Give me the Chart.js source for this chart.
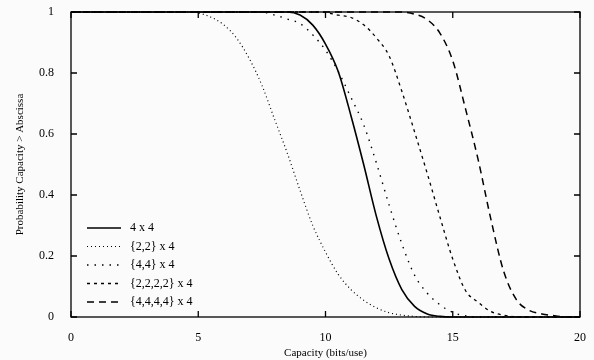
<!DOCTYPE html>
<html>
<head>
<meta charset="utf-8">
<script src="https://cdn.jsdelivr.net/npm/chart.js@4.4.1/dist/chart.umd.min.js"></script>
<style>
  html, body { margin: 0; padding: 0; background: #fbfbfb; }
  #wrap { width: 594px; height: 360px; }
</style>
</head>
<body>
<div id="wrap"><canvas id="cap"></canvas></div>
<script>
// tick labels
const xTicks = [0, 5, 10, 15, 20];
const yTicks = [0, 0.2, 0.4, 0.6, 0.8, 1];

// 4 x 4 (solid)
const x44 = [0, 8.5, 9.0, 9.5, 10.0, 10.5, 11.0, 11.5, 12.0, 12.5, 13.0, 13.5, 14.0, 14.5, 15, 20];
const y44 = [1, 1, 0.99, 0.957, 0.895, 0.805, 0.66, 0.5, 0.33, 0.19, 0.09, 0.035, 0.01, 0.002, 0, 0];

// {2,2} x 4
const x22 = [0, 4.5, 5.0, 5.5, 6.0, 6.5, 7.0, 7.5, 8.0, 8.5, 9.0, 9.5, 10.0, 10.5, 11.0, 11.5, 12.0, 12.5, 13.0, 13.5, 14.0, 20];
const y22 = [1, 1, 0.997, 0.983, 0.958, 0.915, 0.848, 0.76, 0.648, 0.537, 0.415, 0.3, 0.213, 0.14, 0.09, 0.055, 0.03, 0.014, 0.006, 0.002, 0, 0];

// {4,4} x 4
const x4_4 = [0, 7.5, 8.0, 8.5, 9.0, 9.5, 10.0, 10.5, 11.0, 11.5, 12.0, 12.5, 13.0, 13.5, 14.0, 14.5, 15.0, 15.5, 16.0, 20];
const y4_4 = [1, 1, 0.99, 0.977, 0.962, 0.925, 0.875, 0.805, 0.72, 0.63, 0.505, 0.367, 0.24, 0.137, 0.078, 0.04, 0.015, 0.004, 0, 0];

// {2,2,2,2} x 4
const x2222 = [0, 9.8, 10.5, 11.0, 11.5, 12.0, 12.5, 13.0, 13.5, 14.0, 14.5, 15.0, 15.5, 16.0, 16.5, 17.0, 17.5, 18.0, 20];
const y2222 = [1, 1, 0.99, 0.982, 0.958, 0.915, 0.856, 0.74, 0.607, 0.47, 0.327, 0.19, 0.087, 0.048, 0.018, 0.006, 0.001, 0, 0];

// {4,4,4,4} x 4
const x4444 = [0, 13.0, 13.5, 14.0, 14.5, 15.0, 15.5, 16.0, 16.5, 17.0, 17.5, 18.0, 18.5, 19.0, 19.5, 20];
const y4444 = [1, 1, 0.993, 0.975, 0.93, 0.84, 0.683, 0.515, 0.32, 0.15, 0.057, 0.022, 0.01, 0.004, 0, 0];

const labels = ['4 x 4', '{2,2} x 4', '{4,4} x 4', '{2,2,2,2} x 4', '{4,4,4,4} x 4'];

function pts(xs, ys) {
    return xs.map((x, i) => ({ x: x, y: ys[i] }));
}

function line(label, data, dash, width) {
    return {
        label: label,
        data: data,
        borderColor: '#000',
        borderWidth: width,
        borderDash: dash,
        pointRadius: 0,
        fill: false,
        cubicInterpolationMode: 'monotone',
        clip: 2
    };
}

const serif = '"Liberation Serif", "DejaVu Serif", serif';

// frame + inward ticks on all four sides
const framePlugin = {
    id: 'frame',
    afterDatasetsDraw(chart) {
        const ctx = chart.ctx;
        const a = chart.chartArea;
        const xs = chart.scales.x, ys = chart.scales.y;
        ctx.save();
        ctx.strokeStyle = '#000';
        ctx.lineWidth = 1.3;
        ctx.setLineDash([]);
        ctx.strokeRect(a.left, a.top, a.right - a.left, a.bottom - a.top);
        ctx.beginPath();
        xTicks.forEach(v => {
            const px = xs.getPixelForValue(v);
            ctx.moveTo(px, a.bottom); ctx.lineTo(px, a.bottom - 6);
            ctx.moveTo(px, a.top); ctx.lineTo(px, a.top + 6);
        });
        yTicks.forEach(v => {
            const py = ys.getPixelForValue(v);
            ctx.moveTo(a.left, py); ctx.lineTo(a.left + 6, py);
            ctx.moveTo(a.right, py); ctx.lineTo(a.right - 6, py);
        });
        ctx.stroke();
        ctx.restore();
    }
};

// legend drawn inside the plot, lower left
const legendPlugin = {
    id: 'innerLegend',
    afterDatasetsDraw(chart) {
        const ctx = chart.ctx;
        const a = chart.chartArea;
        ctx.save();
        ctx.font = '12px ' + serif;
        ctx.fillStyle = '#000';
        ctx.textBaseline = 'middle';
        chart.data.datasets.forEach((ds, i) => {
            const y = a.bottom - 89 + i * 18.5;
            ctx.strokeStyle = '#000';
            ctx.lineWidth = ds.borderWidth;
            ctx.setLineDash(ds.borderDash || []);
            ctx.beginPath();
            ctx.moveTo(a.left + 16, y);
            ctx.lineTo(a.left + 50, y);
            ctx.stroke();
            ctx.setLineDash([]);
            ctx.fillText(ds.label, a.left + 59, y);
        });
        ctx.restore();
    }
};

new Chart(document.getElementById('cap').getContext('2d'), {
    type: 'line',
    data: {
        datasets: [
            line(labels[0], pts(x44, y44), [], 1.6),
            line(labels[1], pts(x22, y22), [1, 3], 1.2),
            line(labels[2], pts(x4_4, y4_4), [1.5, 6], 1.4),
            line(labels[3], pts(x2222, y2222), [3, 4], 1.3),
            line(labels[4], pts(x4444, y4444), [7, 5], 1.5)
        ]
    },
    options: {
        responsive: true,
        maintainAspectRatio: false,
        animation: false,
        layout: { padding: { top: 12, right: 14, left: 0, bottom: 0 } },
        plugins: {
            legend: { display: false },
            tooltip: { enabled: false }
        },
        scales: {
            x: {
                type: 'linear',
                min: 0,
                max: 20,
                afterBuildTicks(scale) { scale.ticks = xTicks.map(v => ({ value: v })); },
                afterFit(scale) { scale.height = 43; },
                grid: { display: false },
                border: { display: false },
                ticks: { color: '#000', padding: 6, maxRotation: 0, font: { family: serif, size: 12 } },
                title: {
                    display: true,
                    text: 'Capacity (bits/use)',
                    color: '#000',
                    padding: { top: 2, bottom: 0 },
                    font: { family: serif, size: 11 }
                }
            },
            y: {
                type: 'linear',
                min: 0,
                max: 1,
                afterBuildTicks(scale) { scale.ticks = yTicks.map(v => ({ value: v })); },
                afterFit(scale) { scale.width = 71; scale.paddingTop = 0; scale.paddingBottom = 0; },
                grid: { display: false },
                border: { display: false },
                ticks: {
                    color: '#000',
                    padding: 9,
                    font: { family: serif, size: 12 },
                    callback: v => String(v)
                },
                title: {
                    display: true,
                    text: 'Probability Capacity > Abscissa',
                    color: '#000',
                    padding: { top: 14, bottom: 0 },
                    font: { family: serif, size: 11 }
                }
            }
        }
    },
    plugins: [framePlugin, legendPlugin]
});
</script>
</body>
</html>
